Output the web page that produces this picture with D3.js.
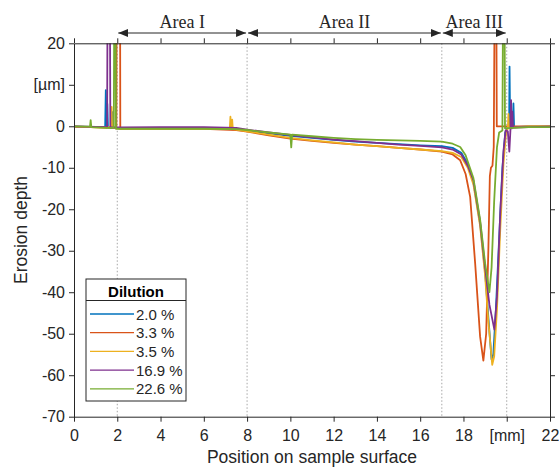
<!DOCTYPE html>
<html lang="en">
<head>
<meta charset="utf-8" />
<title>Erosion depth</title>
<script src="https://d3js.org/d3.v7.min.js"></script>
<style>
    body { margin: 0; background: #fff; }
    .tick text { font-family: "Liberation Sans", Arial, sans-serif; font-size: 16px; fill: #262626; }
    .axis path, .axis line { stroke: #262626; }
</style>
</head>
<body>
<div id="chart"></div>
<script>
    // ---- data: [position mm, depth µm] ----
    const dilutions = ["2.0 %", "3.3 %", "3.5 %", "16.9 %", "22.6 %"];
    const colors = ["#0072BD", "#D95319", "#EDB120", "#7E2F8E", "#77AC30"];

    const blue = [[0,-0.1],[1.44,-0.2],[1.47,8.7],[1.5,-0.3],[1.54,5.4],[1.57,-0.3],[1.76,-0.4],[1.78,3.4],[1.8,-0.4],
        [2.2,-0.5],[4,-0.4],[6,-0.4],[7.5,-0.6],[8,-1.0],[9,-1.7],[10,-2.3],[11,-2.8],[12,-3.3],[13,-3.7],[14,-4.0],[15,-4.3],[16,-4.6],[17,-4.8],
        [17.5,-5.2],[17.9,-6.4],[18.2,-9],[18.46,-13.5],[18.77,-23.5],[19.0,-35],[19.15,-46],[19.3,-56.2],[19.38,-55],[19.5,-44],[19.65,-27],[19.8,-10],[19.93,-1.5],
        [20.05,-0.3],[20.11,-0.4],[20.13,14.4],[20.16,-0.4],[20.28,-0.2],[20.31,5.5],[20.34,-0.2],[21,0],[22,0]];
    const red = [[0,-0.1],[1.5,-0.3],[1.96,-0.3],[1.97,30],[2.13,30],[2.14,-0.6],[4,-0.6],[6,-0.6],[7.5,-0.9],[8,-1.3],[9,-2.2],[10,-3.0],[11,-3.5],[12,-4.0],
        [13,-4.4],[14,-4.8],[15,-5.2],[16,-5.6],[17,-6.1],[17.5,-6.8],[17.85,-8.2],[18.1,-11.5],[18.31,-17],[18.54,-33],[18.77,-50.7],[18.92,-56.5],
        [19.05,-50],[19.15,-30],[19.22,-12],[19.27,-10],[19.34,-9.5],[19.4,-5],[19.44,30],[19.52,30],[19.54,0],[20.3,0],[22,0]];
    const yellow = [[0,-0.1],[1.5,-0.3],[1.72,-0.3],[1.74,4.7],[1.76,-0.4],[2.2,-0.6],[4,-0.6],[6,-0.6],[7.2,-0.6],[7.23,2.3],[7.26,-0.6],[7.31,1.6],[7.34,-0.7],
        [8,-1.2],[9,-2.0],[10,-2.8],[11,-3.4],[12,-3.9],[13,-4.4],[14,-4.8],[15,-5.2],[16,-5.6],[17,-6.0],[17.5,-6.4],[17.9,-7.4],[18.2,-10],
        [18.46,-14],[18.77,-24],[19.0,-36],[19.15,-47],[19.33,-57.5],[19.42,-55.5],[19.55,-44],[19.7,-25],[19.85,-9],[19.97,-1.5],
        [20.05,-0.5],[20.08,3],[20.11,-0.4],[21,0],[22,0]];
    const purple = [[0,0],[1.53,-0.2],[1.55,30],[1.66,30],[1.68,-0.3],[2.2,-0.3],[4,-0.2],[6,-0.2],[7.5,-0.4],[8,-0.8],[9,-1.5],[10,-2.1],[11,-2.7],
        [12,-3.2],[13,-3.6],[14,-4.0],[15,-4.4],[16,-4.7],[17,-5.1],[17.5,-5.6],[17.9,-6.8],[18.2,-9.5],[18.46,-13],[18.77,-23],[19.0,-34],
        [19.2,-43],[19.43,-49],[19.55,-41],[19.7,-21],[19.85,-6],[19.95,-1],[20.05,-1.2],[20.12,-6.1],[20.17,-1],[20.2,6.3],[20.23,-0.5],
        [20.26,3.5],[20.29,-0.3],[21,-0.2],[22,-0.1]];
    const green = [[0,0],[0.74,-0.1],[0.77,1.5],[0.8,-0.2],[1.5,-0.4],[1.84,-0.4],[1.86,30],[1.92,30],[1.94,-0.6],[4,-0.6],[6,-0.6],[7.5,-0.7],
        [8,-0.9],[9,-1.5],[10,-2.0],[10.04,-5.1],[10.08,-2.0],[11,-2.4],[12,-2.8],[13,-3.1],[14,-3.3],[15,-3.4],[16,-3.5],[17,-3.7],[17.5,-4.2],
        [17.85,-5],[18.1,-7],[18.46,-12.5],[18.77,-22.5],[19.0,-33],[19.2,-40],[19.3,-34],[19.42,-18],[19.55,-5],[19.65,-1.5],[19.8,-1],
        [19.83,30],[19.9,30],[19.92,-0.5],[21,-0.2],[22,-0.2]];
    const seriesData = [blue, red, yellow, purple, green];

    const xTicks = [0, 2, 4, 6, 8, 10, 12, 14, 16, 18, 20, 22];
    const yTicks = [20, 10, 0, -10, -20, -30, -40, -50, -60, -70];
    const areaBounds = [2, 8, 17, 20];
    const areaNames = ["Area I", "Area II", "Area III"];

    // ---- layout ----
    const W = 559, H = 467;
    const pLeft = 74, pRight = 550, pTop = 43.3, pBottom = 416.7;

    const x = d3.scaleLinear().domain([0, 22]).range([pLeft, pRight]);
    const y = d3.scaleLinear().domain([-70, 20]).range([pBottom, pTop]);

    const svg = d3.select("#chart").append("svg")
        .attr("width", W)
        .attr("height", H);

    const defs = svg.append("defs");
    defs.append("clipPath").attr("id", "plot")
        .append("rect")
        .attr("x", pLeft).attr("y", pTop)
        .attr("width", pRight - pLeft).attr("height", pBottom - pTop);

    defs.append("marker")
        .attr("id", "head")
        .attr("viewBox", "0 0 10 8")
        .attr("refX", 10).attr("refY", 4)
        .attr("markerWidth", 10).attr("markerHeight", 8)
        .attr("markerUnits", "userSpaceOnUse")
        .attr("orient", "auto-start-reverse")
        .append("path").attr("d", "M0,0 L10,4 L0,8 Z").attr("fill", "#262626");

    // dotted area boundaries
    svg.selectAll(".bound")
        .data(areaBounds)
        .enter().append("line")
        .attr("class", "bound")
        .attr("x1", d => x(d)).attr("x2", d => x(d))
        .attr("y1", pTop).attr("y2", pBottom)
        .attr("stroke", "#a6a6a6")
        .attr("stroke-width", 1)
        .attr("stroke-dasharray", "1.5,2");

    // curves
    const line = d3.line().x(d => x(d[0])).y(d => y(d[1]));
    svg.append("g").attr("clip-path", "url(#plot)")
        .selectAll("path")
        .data(seriesData)
        .enter().append("path")
        .attr("d", line)
        .attr("fill", "none")
        .attr("stroke", (d, i) => colors[i])
        .attr("stroke-width", 1.8)
        .attr("stroke-linejoin", "round");

    // axes (box with outward ticks)
    const xAxis = d3.axisBottom(x).tickValues(xTicks).tickSize(5).tickSizeOuter(0)
        .tickFormat(d => d === 20 ? "[mm]" : String(d));
    const yAxis = d3.axisLeft(y).tickValues(yTicks).tickSize(5).tickSizeOuter(0)
        .tickFormat(d => d === 10 ? "[µm]" : String(d));

    svg.append("g").attr("class", "axis")
        .attr("transform", "translate(0," + pBottom + ")")
        .call(xAxis)
        .selectAll("text").attr("dy", "1.05em");
    svg.append("g").attr("class", "axis")
        .attr("transform", "translate(" + pLeft + ",0)")
        .call(yAxis)
        .selectAll("text").attr("dx", "-1px");
    svg.append("g").attr("class", "axis")
        .attr("transform", "translate(0," + pTop + ")")
        .call(d3.axisTop(x).tickValues(xTicks).tickSize(5).tickSizeOuter(0).tickFormat(""));
    svg.append("g").attr("class", "axis")
        .attr("transform", "translate(" + pRight + ",0)")
        .call(d3.axisRight(y).tickValues(yTicks).tickSize(5).tickSizeOuter(0).tickFormat(""));

    // axis titles
    svg.append("text")
        .attr("x", (pLeft + pRight) / 2).attr("y", 463)
        .attr("text-anchor", "middle")
        .style("font-family", "Liberation Sans, Arial, sans-serif")
        .style("font-size", "17.5px").attr("fill", "#262626")
        .text("Position on sample surface");
    svg.append("text")
        .attr("transform", "translate(27," + (pTop + pBottom) / 2 + ") rotate(-90)")
        .attr("text-anchor", "middle")
        .style("font-family", "Liberation Sans, Arial, sans-serif")
        .style("font-size", "17.5px").attr("fill", "#262626")
        .text("Erosion depth");

    // area arrows on top
    const areas = areaNames.map((name, i) => ({ name: name, a: areaBounds[i], b: areaBounds[i + 1] }));
    const ag = svg.selectAll(".area").data(areas).enter().append("g").attr("class", "area");
    ag.append("line")
        .attr("x1", d => x(d.a) + 1).attr("x2", d => x(d.b) - 1)
        .attr("y1", 33).attr("y2", 33)
        .attr("stroke", "#262626").attr("stroke-width", 1)
        .attr("marker-start", "url(#head)")
        .attr("marker-end", "url(#head)");
    ag.append("text")
        .attr("x", d => x((d.a + d.b) / 2)).attr("y", 27.5)
        .attr("text-anchor", "middle")
        .style("font-family", "Liberation Serif, Times New Roman, serif")
        .style("font-size", "18px").attr("fill", "#262626")
        .text(d => d.name);

    // legend
    const lg = svg.append("g").attr("transform", "translate(86,279)");
    lg.append("rect").attr("width", 100).attr("height", 122)
        .attr("fill", "#fff").attr("stroke", "#262626").attr("stroke-width", 1);
    lg.append("line").attr("x1", 0).attr("x2", 100).attr("y1", 21.5).attr("y2", 21.5)
        .attr("stroke", "#262626").attr("stroke-width", 1);
    lg.append("text").attr("x", 50).attr("y", 18)
        .attr("text-anchor", "middle")
        .style("font-family", "Liberation Sans, Arial, sans-serif")
        .style("font-size", "15px").style("font-weight", "bold").attr("fill", "#000")
        .text("Dilution");
    const items = lg.selectAll(".item").data(dilutions).enter().append("g")
        .attr("class", "item")
        .attr("transform", (d, i) => "translate(0," + (35 + i * 18.7) + ")");
    items.append("line").attr("x1", 4).attr("x2", 48).attr("y1", 0).attr("y2", 0)
        .attr("stroke", (d, i) => colors[i]).attr("stroke-width", 1.3);
    items.append("text").attr("x", 50).attr("y", 5.5)
        .style("font-family", "Liberation Sans, Arial, sans-serif")
        .style("font-size", "15px").attr("fill", "#262626")
        .text(d => d);
</script>
</body>
</html>
